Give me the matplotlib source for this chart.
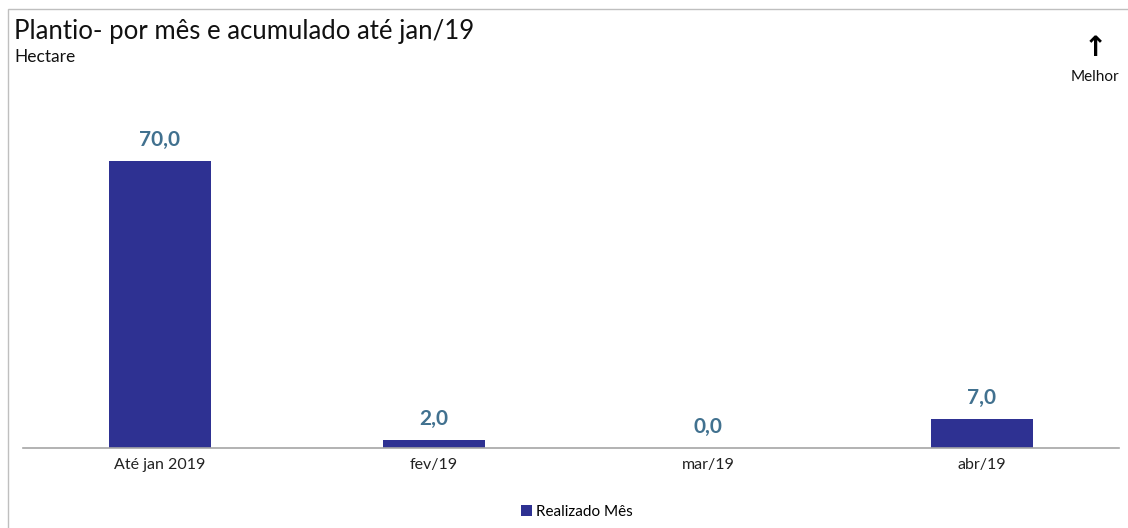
import matplotlib.pyplot as plt
from matplotlib.patches import Rectangle

# Data
categories = ['Até jan 2019', 'fev/19', 'mar/19', 'abr/19']
values = [70.0, 2.0, 0.0, 7.0]
series_name = 'Realizado Mês'

bar_color = '#2E3192'
label_color = '#41718F'

plt.rcParams['font.family'] = ['Lato', 'DejaVu Sans']

fig = plt.figure(figsize=(11.28, 5.28), dpi=100)
ax = fig.add_axes([23 / 1128, 1 - 448 / 528, (1119 - 23) / 1128, (448 - 100) / 528])

x = range(len(categories))
bars = ax.bar(x, values, width=0.375, color=bar_color, label=series_name, zorder=2)
ax.set_xlim(-0.5, len(categories) - 0.5)
ax.set_ylim(0, 85)

for xi, v in zip(x, values):
    ax.annotate(f'{v:.1f}'.replace('.', ','), (xi, v), xytext=(0, 8),
                textcoords='offset points', ha='center', va='bottom',
                fontsize=15, fontweight='bold', color=label_color)

ax.set_xticks(list(x))
ax.set_xticklabels(categories, fontsize=11.5, color='#222222')
ax.tick_params(axis='x', length=0, pad=7)
ax.set_yticks([])
for s in ['top', 'right', 'left']:
    ax.spines[s].set_visible(False)
ax.spines['bottom'].set_color('#A6A6A6')
ax.spines['bottom'].set_linewidth(1.2)

# Outer frame (left and top visible)
fig.add_artist(Rectangle((8 / 1128, -0.01), 1.5, 1 - 9 / 528 + 0.01, transform=fig.transFigure,
                         fill=False, edgecolor='#BFBFBF', linewidth=1))

fig.text(14 / 1128, 1 - 31 / 528, 'Plantio- por mês e acumulado até jan/19',
         fontsize=18.5, va='center', ha='left', color='#111111')
fig.text(14 / 1128, 1 - 57 / 528, 'Hectare', fontsize=12.5, va='center', ha='left', color='#111111')

fig.text(1095 / 1128, 1 - 48 / 528, '↑', fontsize=20, va='center', ha='center', color='black',
         fontweight='bold', family=['DejaVu Sans'])
fig.text(1095 / 1128, 1 - 77 / 528, 'Melhor', fontsize=11, va='center', ha='center', color='#111111')

fig.legend(loc='center', bbox_to_anchor=(577 / 1128, 1 - 512 / 528), frameon=False,
           fontsize=11, handlelength=0.7, handleheight=0.7, handletextpad=0.3)

fig.savefig('out.png', dpi=100, facecolor='white')
